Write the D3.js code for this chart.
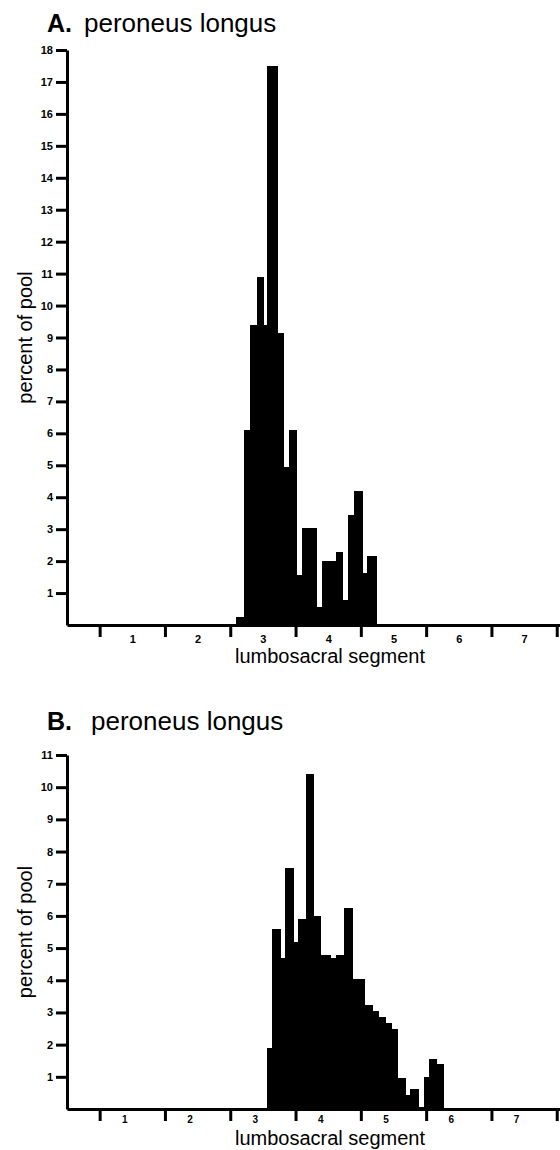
<!DOCTYPE html>
<html>
<head>
<meta charset="utf-8">
<script src="https://cdn.jsdelivr.net/npm/d3@7"></script>
<style>
  body { margin: 0; background: #fff; }
  text { font-family: "Liberation Sans", Arial, Helvetica, sans-serif; fill: #000; }
</style>
</head>
<body>
<svg id="chart" width="560" height="1150"></svg>
<script>
// bin edges (lumbosacral segment units) and percent of pool in each bin
const edgesA = [2.59, 2.71, 2.80, 2.91, 3.01, 3.06, 3.23, 3.32, 3.40, 3.52,
  3.60, 3.83, 3.91, 4.12, 4.22, 4.31, 4.40, 4.53, 4.60, 4.74];
const percentA = [0.25, 6.1, 9.4, 10.9, 9.4, 17.5, 9.15, 4.95, 6.1, 1.55,
  3.05, 0.55, 2.0, 2.3, 0.78, 3.45, 4.2, 1.64, 2.15];

const edgesB = [3.06, 3.14, 3.27, 3.34, 3.48, 3.54, 3.66, 3.78, 3.89, 4.04,
  4.12, 4.24, 4.38, 4.56, 4.68, 4.78, 4.88, 4.98, 5.07, 5.19, 5.26, 5.39,
  5.46, 5.55, 5.66, 5.77];
const percentB = [1.9, 5.6, 4.7, 7.5, 5.2, 5.9, 10.4, 6.0, 4.8, 4.7, 4.8,
  6.25, 4.05, 3.23, 3.05, 2.85, 2.68, 2.5, 0.97, 0.43, 0.61, 0.05, 0.98,
  1.55, 1.4];

const yTicksA = [1, 2, 3, 4, 5, 6, 7, 8, 9, 10, 11, 12, 13, 14, 15, 16, 17, 18];
const yTicksB = [1, 2, 3, 4, 5, 6, 7, 8, 9, 10, 11];
const segmentLabels = [1, 2, 3, 4, 5, 6, 7];
const segmentBounds = [0.5, 1.5, 2.5, 3.5, 4.5, 5.5, 6.5, 7.5];

const muscle = 'peroneus longus';
const xTitle = 'lumbosacral segment';
const yTitle = 'percent of pool';

const svg = d3.select('#chart');

const x = d3.scaleLinear().domain([0, 7.55]).range([67, 560]);

function drawPanel(p) {
  const y = d3.scaleLinear().domain([0, p.yMax]).range([p.base, p.top]);
  const g = svg.append('g');

  const bins = p.percent.map((v, i) => ({ x0: p.edges[i], x1: p.edges[i + 1], v: v }));

  g.append('g')
    .selectAll('rect')
    .data(bins)
    .enter()
    .append('rect')
    .attr('x', (d) => x(d.x0))
    .attr('width', (d) => x(d.x1) - x(d.x0))
    .attr('y', (d) => y(d.v))
    .attr('height', (d) => y(0) - y(d.v))
    .attr('fill', '#000')
    .attr('shape-rendering', 'crispEdges');

  const yAxis = d3.axisLeft(y)
    .tickValues(p.yTicks)
    .tickSize(11)
    .tickSizeOuter(0)
    .tickPadding(3);

  const ya = g.append('g')
    .attr('transform', 'translate(' + x(0) + ',0)')
    .call(yAxis);
  ya.selectAll('text')
    .style('font-size', p.yFont + 'px')
    .style('font-weight', 'bold');

  // segment boundaries: ticks only
  const xAxis = d3.axisBottom(x)
    .tickValues(segmentBounds)
    .tickFormat('')
    .tickSize(12)
    .tickSizeOuter(0);

  const xa = g.append('g')
    .attr('transform', 'translate(0,' + y(0) + ')')
    .call(xAxis);

  // segment numbers sit between the boundaries
  const labelAxis = d3.axisBottom(x)
    .tickValues(segmentLabels)
    .tickSize(0)
    .tickPadding(p.labelPad);

  const la = g.append('g')
    .attr('transform', 'translate(' + p.labelShift + ',' + y(0) + ')')
    .call(labelAxis);
  la.select('.domain').remove();
  la.selectAll('text')
    .style('font-size', p.xFont + 'px')
    .style('font-weight', 'bold');

  [ya, xa].forEach((a) => {
    a.selectAll('.domain').attr('stroke', '#000').attr('stroke-width', 3);
    a.selectAll('.tick line').attr('stroke', '#000').attr('stroke-width', 3);
  });

  g.append('text')
    .attr('x', 330)
    .attr('y', y(0) + p.xTitleGap)
    .attr('text-anchor', 'middle')
    .style('font-size', '20px')
    .text(xTitle);

  g.append('text')
    .attr('transform', 'translate(32,' + (p.base + p.top) / 2 + ') rotate(-90)')
    .attr('text-anchor', 'middle')
    .style('font-size', '20px')
    .text(yTitle);

  g.append('text')
    .attr('x', 47)
    .attr('y', p.titleY)
    .style('font-size', '25px')
    .style('font-weight', 'bold')
    .text(p.letter);

  g.append('text')
    .attr('x', p.titleX)
    .attr('y', p.titleY)
    .style('font-size', '26px')
    .text(muscle);
}

drawPanel({
  letter: 'A.', edges: edgesA, percent: percentA, yTicks: yTicksA,
  yMax: 18, base: 625, top: 50, titleY: 32, titleX: 84,
  yFont: 11, xFont: 11, labelShift: 0, labelPad: 10, xTitleGap: 38
});

drawPanel({
  letter: 'B.', edges: edgesB, percent: percentB, yTicks: yTicksB,
  yMax: 11, base: 1109, top: 755, titleY: 730, titleX: 91,
  yFont: 11, xFont: 10, labelShift: -8, labelPad: 7, xTitleGap: 36
});
</script>
</body>
</html>
